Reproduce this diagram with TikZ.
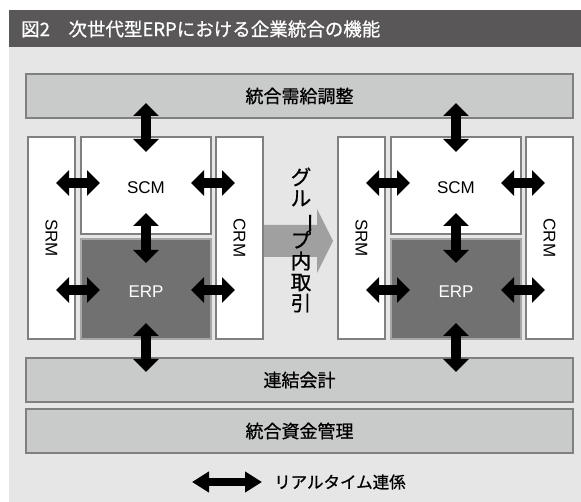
\documentclass[tikz,border=0pt]{standalone}
\usepackage{fontspec}
\setmainfont{Noto Sans CJK JP}[FakeBold=0.8]
\newfontfamily\latinsans{Liberation Sans}
\usetikzlibrary{arrows.meta}
\definecolor{titlebg}{HTML}{595757}
\definecolor{bg}{HTML}{E6E6E6}
\definecolor{barfill}{HTML}{C9CACA}
\definecolor{edge}{HTML}{808080}
\definecolor{erpfill}{HTML}{727171}
\definecolor{bigarrow}{HTML}{A0A0A0}
\begin{document}
\begin{tikzpicture}[x=1pt,y=-1pt,
  box/.style={draw=edge, line width=1.5pt, fill=white, anchor=north west, inner sep=0pt, outer sep=0pt},
  bar/.style={draw=edge, line width=2pt, fill=barfill, anchor=north west, inner sep=0pt, outer sep=0pt,
    minimum width=547pt, minimum height=44pt, font=\fontsize{18}{20}\selectfont},
  lab/.style={font=\latinsans\fontsize{17}{19}\selectfont},
  vchar/.style={inner sep=0pt, font=\fontsize{20.5}{21}\selectfont, text height=0.88em, text depth=0.12em},
  dbl/.style={line width=9.5pt, {Triangle[width=25pt,length=13pt]}-{Triangle[width=25pt,length=13pt]}},
  legarrow/.style={line width=8pt, {Triangle[width=20pt,length=17pt]}-{Triangle[width=20pt,length=17pt]}}]
\useasboundingbox (0,0) rectangle (581,502);
% background and title
\fill[white] (0,0) rectangle (581,502);
\fill[bg] (9,47) rectangle (581,502);
\fill[titlebg] (9,10) rectangle (581,47);
\node[anchor=west, text=white, inner sep=0pt, font=\fontsize{18.5}{20}\selectfont] (title) at (21,29) {図2　次世代型ERPにおける企業統合の機能};
% bars
\node[bar] (top) at (26,74) {統合需給調整};
\node[bar] (cons) at (26,358) {連結会計};
\node[bar] (fund) at (26,409) {統合資金管理};
% big arrow
\fill[bigarrow] (263,225) -- (317,225) -- (317,209) -- (333,241) -- (317,273) -- (317,257) -- (263,257) -- cycle;
% vertical text
\node[vchar] (g1) at (301,181) {グ};
\node[vchar] (g2) at (301,202) {ル};
\node[vchar, rotate=-90] (g3) at (306,223) {ー};
\node[vchar] (g4) at (301,244) {プ};
\node[vchar] (g5) at (301,265) {内};
\node[vchar] (g6) at (301,286) {取};
\node[vchar] (g7) at (301,307) {引};
% clusters
\foreach \s/\dx in {L/0, R/310} {
  \node[box, minimum width=47pt, minimum height=202pt] (srm\s) at (28+\dx,137) {};
  \node[lab, rotate=-90] at (srm\s.center) {SRM};
  \node[box, minimum width=47pt, minimum height=202pt] (crm\s) at (216+\dx,137) {};
  \node[lab, rotate=-90] at (crm\s.center) {CRM};
  \node[box, minimum width=130pt, minimum height=97pt] (scm\s) at (81+\dx,137) {};
  \node[lab] at ([yshift=-2pt]scm\s.center) {SCM};
  \node[box, fill=erpfill, draw=edge!70, minimum width=130pt, minimum height=100pt] (erp\s) at (81+\dx,239) {};
  \node[lab, text=white] at ([yshift=-3pt]erp\s.center) {ERP};
  % arrows
  \coordinate (t1\s) at (146+\dx,103);
  \coordinate (t2\s) at (146+\dx,152);
  \coordinate (m1\s) at (146+\dx,213);
  \coordinate (m2\s) at (146+\dx,263);
  \coordinate (b1\s) at (146+\dx,323);
  \coordinate (b2\s) at (146+\dx,372);
  \coordinate (hl1\s) at (56+\dx,183);
  \coordinate (hl2\s) at (100+\dx,183);
  \coordinate (hr1\s) at (191+\dx,183);
  \coordinate (hr2\s) at (235+\dx,183);
  \coordinate (el1\s) at (56+\dx,290);
  \coordinate (el2\s) at (100+\dx,290);
  \coordinate (er1\s) at (191+\dx,290);
  \coordinate (er2\s) at (235+\dx,290);
  \draw[dbl] (t1\s) -- (t2\s);
  \draw[dbl] (m1\s) -- (m2\s);
  \draw[dbl] (b1\s) -- (b2\s);
  \draw[dbl] (hl1\s) -- (hl2\s);
  \draw[dbl] (hr1\s) -- (hr2\s);
  \draw[dbl] (el1\s) -- (el2\s);
  \draw[dbl] (er1\s) -- (er2\s);
}
% legend
\coordinate (lg1) at (192,482);
\coordinate (lg2) at (262,482);
\draw[legarrow] (lg1) -- (lg2);
\node[anchor=west, inner sep=0pt, font=\fontsize{16.5}{18}\selectfont] (legend) at (274,482) {リアルタイム連係};
\end{tikzpicture}
\end{document}
